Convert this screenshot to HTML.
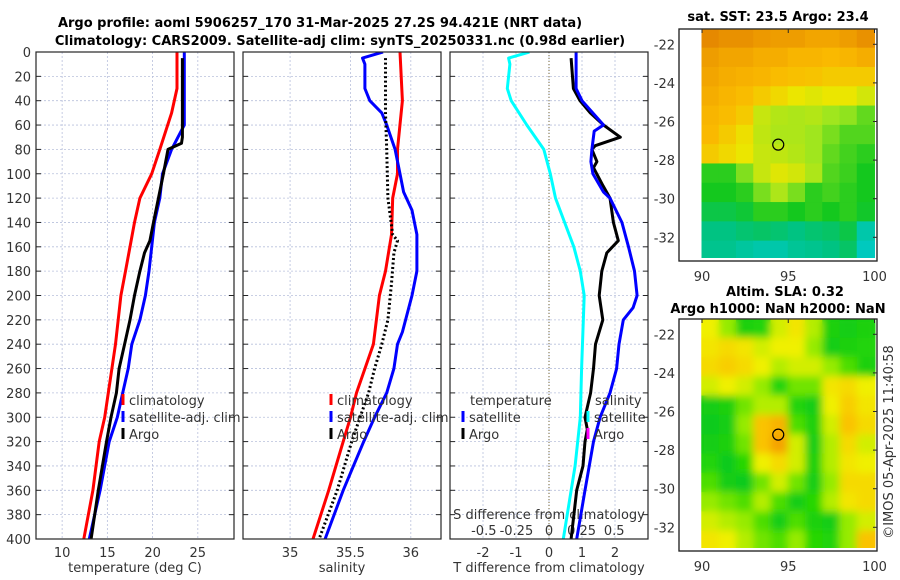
<!DOCTYPE html>
<html><head><meta charset="utf-8">
<style>
html,body{margin:0;padding:0;background:#fff;}
svg{display:block;font-family:"DejaVu Sans","Liberation Sans",sans-serif;}
text{fill:#333;font-size:13px;}
.b{font-weight:bold;fill:#000;font-size:13px;}
</style></head>
<body>
<svg id="fig" width="900" height="580" viewBox="0 0 900 580" xmlns="http://www.w3.org/2000/svg">
<defs>
<clipPath id="c1"><rect x="36" y="52" width="198" height="487"/></clipPath>
<clipPath id="c2"><rect x="243" y="52" width="198" height="487"/></clipPath>
<clipPath id="c3"><rect x="450" y="52" width="198" height="487"/></clipPath>
<clipPath id="cm1"><rect x="701" y="29" width="175" height="229"/></clipPath>
<clipPath id="cm2"><rect x="701" y="319" width="175" height="229"/></clipPath>
<filter id="blur" x="-5%" y="-5%" width="110%" height="110%"><feGaussianBlur stdDeviation="4"/></filter>
</defs>
<text class="b" x="320" y="27" text-anchor="middle">Argo profile: aoml 5906257_170 31-Mar-2025 27.2S 94.421E (NRT data)</text>
<text class="b" x="340" y="45" text-anchor="middle">Climatology: CARS2009. Satellite-adj clim: synTS_20250331.nc (0.98d earlier)</text>
<text class="b" x="778" y="21" text-anchor="middle">sat. SST: 23.5 Argo: 23.4</text>
<text class="b" x="785" y="296" text-anchor="middle">Altim. SLA: 0.32</text>
<text class="b" x="778" y="313" text-anchor="middle">Argo h1000: NaN h2000: NaN</text>
<text x="0" y="0" transform="translate(893,442) rotate(-90)" text-anchor="middle">©IMOS 05-Apr-2025 11:40:58</text>
<g id="layer"></g>
</svg>
<script>
// ---------- profile data ----------
const yTicks=[0,20,40,60,80,100,120,140,160,180,200,220,240,260,280,300,320,340,360,380,400];
const tempTicks=[10,15,20,25];
const salTicks=[35,35.5,36];
const salTickLabels=["35","35.5","36"];
const dTTicks=[-2,-1,0,1,2];
const dSTicks=[-0.5,-0.25,0,0.25,0.5];
const dSTickLabels=["-0.5","-0.25","0","0.25","0.5"];

const tClimDepth=[0,30,50,80,100,120,140,160,180,200,240,280,300,320,360,400];
const tClimVal=[22.7,22.7,22.1,20.8,19.9,18.6,18.0,17.5,17.0,16.5,15.9,15.1,14.7,14.1,13.4,12.4];
const tSatDepth=[0,60,80,100,120,140,160,180,200,220,240,260,280,300,320,360,400];
const tSatVal=[23.5,23.5,22.1,21.1,20.8,20.2,19.9,19.6,19.2,18.6,17.7,17.3,16.7,16.1,15.2,14.2,13.0];
const tArgoDepth=[5,70,75,80,100,140,155,165,180,200,220,240,260,280,300,320,360,400];
const tArgoVal=[23.3,23.3,23.2,21.7,21.2,20.1,19.7,19.1,18.6,18.0,17.5,16.9,16.3,16.0,15.4,14.9,14.0,13.2];

const sClimDepth=[0,40,80,100,120,150,180,200,240,280,300,320,360,400];
const sClimVal=[35.91,35.93,35.89,35.89,35.85,35.84,35.79,35.74,35.69,35.55,35.50,35.44,35.32,35.19];
const sSatDepth=[0,5,10,30,40,50,60,80,100,115,130,150,180,200,230,240,260,280,300,320,360,400];
const sSatVal=[35.77,35.60,35.62,35.62,35.66,35.76,35.80,35.87,35.91,35.94,36.01,36.05,36.05,36.01,35.93,35.89,35.86,35.80,35.70,35.61,35.44,35.29];
const sArgoDepth=[5,50,80,120,150,155,165,190,220,240,260,280,300,320,360,400];
const sArgoVal=[35.79,35.79,35.80,35.81,35.85,35.89,35.86,35.84,35.81,35.76,35.70,35.65,35.58,35.51,35.39,35.24];

const dSSatDepth=[0,5,10,30,40,60,80,100,120,140,160,180,200,230,260,300,340,400];
const dSSatVal=[-0.15,-0.31,-0.30,-0.32,-0.29,-0.17,-0.04,0.01,0.05,0.12,0.19,0.24,0.27,0.26,0.25,0.24,0.20,0.11];
const dTArgoDepth=[5,30,40,50,60,70,77,80,90,95,110,120,140,155,165,180,200,220,240,260,280,300,310,320,340,360,400];
const dTArgoVal=[0.67,0.74,0.94,1.25,1.65,2.16,1.40,1.30,1.45,1.35,1.64,1.85,1.95,2.10,1.75,1.60,1.52,1.63,1.41,1.35,1.26,1.09,1.16,1.09,1.03,0.84,0.67];
const dTSatDepth=[0,30,40,60,65,80,90,100,115,120,140,160,180,200,210,220,240,260,280,300,320,360,400];
const dTSatVal=[0.82,0.82,1.0,1.65,1.37,1.30,1.27,1.33,1.65,1.85,2.21,2.41,2.59,2.67,2.55,2.25,2.12,2.05,1.85,1.55,1.35,1.09,0.84];

// ---------- map data (rows north->south, cols west->east) ----------
const mapLons=[90,91,92,93,94,95,96,97,98,99];
const mapLatTops=[-21.2,-22.2,-23.2,-24.2,-25.2,-26.2,-27.2,-28.2,-29.2,-30.2,-31.2,-32.2];
const lonTicks=[90,95,100];
const latTicks=[-22,-24,-26,-28,-30,-32];
const sstGrid=[
[0.97,0.95,0.95,0.93,0.92,0.92,0.9,0.9,0.92,0.95],
[0.92,0.9,0.9,0.88,0.88,0.86,0.86,0.85,0.86,0.88],
[0.9,0.88,0.87,0.86,0.84,0.83,0.82,0.8,0.8,0.8],
[0.88,0.86,0.84,0.8,0.76,0.72,0.7,0.72,0.72,0.68],
[0.86,0.84,0.8,0.66,0.63,0.62,0.63,0.6,0.58,0.52],
[0.85,0.8,0.74,0.65,0.62,0.62,0.6,0.55,0.5,0.5],
[0.8,0.76,0.72,0.66,0.65,0.63,0.6,0.52,0.48,0.45],
[0.45,0.45,0.56,0.66,0.7,0.68,0.62,0.5,0.47,0.42],
[0.42,0.42,0.45,0.55,0.62,0.55,0.45,0.48,0.45,0.42],
[0.35,0.35,0.38,0.45,0.45,0.42,0.45,0.42,0.45,0.4],
[0.25,0.25,0.28,0.3,0.28,0.25,0.28,0.3,0.35,0.15],
[0.22,0.22,0.18,0.15,0.15,0.2,0.22,0.25,0.3,0.1]];
const slaGrid=[
[0.6,0.45,0.2,0.25,0.55,0.65,0.5,0.2,0.15,0.2],
[0.65,0.7,0.65,0.55,0.6,0.6,0.45,0.15,0.2,0.25],
[0.7,0.75,0.7,0.6,0.5,0.55,0.55,0.45,0.35,0.2],
[0.55,0.6,0.55,0.45,0.25,0.4,0.4,0.65,0.7,0.6],
[0.15,0.2,0.4,0.5,0.5,0.25,0.15,0.6,0.75,0.65],
[0.1,0.15,0.45,0.8,0.85,0.35,0.2,0.55,0.8,0.7],
[0.15,0.2,0.4,0.8,0.9,0.55,0.15,0.5,0.7,0.55],
[0.25,0.1,0.3,0.6,0.7,0.55,0.2,0.5,0.65,0.6],
[0.35,0.15,0.1,0.4,0.55,0.4,0.15,0.45,0.7,0.7],
[0.45,0.4,0.35,0.5,0.35,0.15,0.3,0.5,0.65,0.7],
[0.55,0.5,0.45,0.35,0.15,0.35,0.2,0.15,0.45,0.55],
[0.65,0.6,0.5,0.4,0.35,0.45,0.3,0.25,0.45,0.8]];
const argoLon=94.42, argoLat=-27.2;

// ---------- helpers ----------
const NS="http://www.w3.org/2000/svg";
const layer=document.getElementById('layer');
function mk(tag,attrs,parent){const e=document.createElementNS(NS,tag);for(const k in attrs)e.setAttribute(k,attrs[k]);(parent||layer).appendChild(e);return e;}
const Y0=52,Y1=539;
function yP(d){return Y0+(d/400)*(Y1-Y0);}
const panels=[{x0:36,x1:234,lo:7.11,hi:29.0,clip:'c1'},{x0:243,x1:441,lo:34.61,hi:36.25,clip:'c2'},{x0:450,x1:648,lo:-3.0,hi:3.0,clip:'c3'}];
function xs(p,v){return p.x0+(v-p.lo)/(p.hi-p.lo)*(p.x1-p.x0);}
function xS3(v){return 549+v*130.4;}

function grid(p,ticks,pi){
  ticks.forEach(t=>{const x=xs(p,t);
    const l=mk('line',{x1:x,x2:x,y1:Y0,y2:Y1,stroke:'#b8c0dc','stroke-width':0.8,'stroke-dasharray':'2,2'});
    
    });
  yTicks.forEach(d=>{const y=yP(d);
    const l=mk('line',{x1:p.x0,x2:p.x1,y1:y,y2:y,stroke:'#b8c0dc','stroke-width':0.8,'stroke-dasharray':'2,2'});
    
    
    mk('line',{x1:p.x0,x2:p.x0+5,y1:y,y2:y,stroke:'#262626','stroke-width':1});
    mk('line',{x1:p.x1-5,x2:p.x1,y1:y,y2:y,stroke:'#262626','stroke-width':1});});
}
function frame(p,pi){
  const r=mk('rect',{x:p.x0,y:Y0,width:p.x1-p.x0,height:Y1-Y0,fill:'none',stroke:'#262626','stroke-width':1.2});
  
  
}
function line(p,ds,vs,color,name,dash,xf){
  const pts=ds.map((d,i)=>(xf?xf(vs[i]):xs(p,vs[i])).toFixed(1)+','+yP(d).toFixed(1)).join(' ');
  const a={points:pts,fill:'none',stroke:color,'stroke-width':3,'stroke-linejoin':'round','clip-path':'url(#'+p.clip+')'};
  if(dash)a['stroke-dasharray']=dash;
  const e=mk('polyline',a);
  
  
}
function txt(x,y,s,anchor,name){const t=mk('text',{x:x,y:y,'text-anchor':anchor||'start'});t.textContent=s;
  
  
  return t;}

grid(panels[0],tempTicks,1);grid(panels[1],salTicks,2);grid(panels[2],dTTicks,3);
{const z=mk('line',{x1:xs(panels[2],0),x2:xs(panels[2],0),y1:Y0,y2:Y1,stroke:'#7a6a3a','stroke-width':1,'stroke-dasharray':'1,2'});

}

yTicks.forEach(d=>txt(31,yP(d)+5,String(d),'end','y-tick-label'));
tempTicks.forEach(t=>txt(xs(panels[0],t),557,String(t),'middle','temp-tick-label'));
salTicks.forEach((t,i)=>txt(xs(panels[1],t),557,salTickLabels[i],'middle','salinity-tick-label'));
dTTicks.forEach(t=>txt(xs(panels[2],t),557,String(t),'middle','tdiff-tick-label'));
dSTicks.forEach((t,i)=>txt(xS3(t),535,dSTickLabels[i],'middle','sdiff-tick-label'));
txt(135,572,'temperature (deg C)','middle','temperature-axis-title');
txt(342,572,'salinity','middle','salinity-axis-title');
txt(549,572,'T difference from climatology','middle','tdiff-axis-title');
txt(549,519,'S difference from climatology','middle','sdiff-axis-title');

line(panels[0],tClimDepth,tClimVal,'#ff0000','temp-climatology-line');
line(panels[0],tSatDepth,tSatVal,'#0000ff','temp-satellite-line');
line(panels[0],tArgoDepth,tArgoVal,'#000000','temp-argo-line');
line(panels[1],sClimDepth,sClimVal,'#ff0000','salinity-climatology-line');
line(panels[1],sSatDepth,sSatVal,'#0000ff','salinity-satellite-line');
line(panels[1],sArgoDepth,sArgoVal,'#000000','salinity-argo-line','2,2.5');
line(panels[2],dSSatDepth,dSSatVal,'#00ffff','sdiff-satellite-line',null,xS3);
line(panels[2],dTArgoDepth,dTArgoVal,'#000000','tdiff-argo-line');
line(panels[2],dTSatDepth,dTSatVal,'#0000ff','tdiff-satellite-line');
frame(panels[0],1);frame(panels[1],2);frame(panels[2],3);

function leg(x,y,color,label,name){
  const m=mk('line',{x1:x,x2:x,y1:y-11,y2:y,stroke:color,'stroke-width':3});
  
  
  txt(x+6,y,label,'start',name);
}
[[123,'#ff0000','climatology'],[123,'#0000ff','satellite-adj. clim'],[123,'#000000','Argo']].forEach((l,i)=>leg(l[0],405+i*17,l[1],l[2],'legend-entry-temp'));
[[331,'#ff0000','climatology'],[331,'#0000ff','satellite-adj. clim'],[331,'#000000','Argo']].forEach((l,i)=>leg(l[0],405+i*17,l[1],l[2],'legend-entry-salinity'));
txt(470,405,'temperature','start','legend-header-temperature');
txt(595,405,'salinity','start','legend-header-salinity');
leg(463,422,'#0000ff','satellite','legend-entry-tdiff-satellite');
leg(463,439,'#000000','Argo','legend-entry-tdiff-argo');
leg(588,422,'#00ffff','satellite','legend-entry-sdiff-satellite');
leg(588,439,'#ff00ff','Argo','legend-entry-sdiff-argo');

// ---------- maps ----------
function lerp(a,b,t){return a.map((v,i)=>Math.round(v+(b[i]-v)*t));}
function cmap(stops,v){for(let i=1;i<stops.length;i++){if(v<=stops[i][0]){const t=(v-stops[i-1][0])/(stops[i][0]-stops[i-1][0]);return 'rgb('+lerp(stops[i-1][1],stops[i][1],Math.max(0,t)).join(',')+')';}}return 'rgb('+stops[stops.length-1][1].join(',')+')';}
const sstStops=[[0,[0,205,230]],[0.25,[0,195,130]],[0.42,[20,200,30]],[0.6,[160,230,30]],[0.72,[235,230,0]],[0.85,[250,185,0]],[1,[225,125,0]]];
const slaStops=[[0,[0,195,40]],[0.3,[40,215,0]],[0.45,[150,235,0]],[0.6,[240,240,0]],[0.8,[250,195,0]],[1,[240,130,0]]];

function drawMap(m){
  const lonX=l=>702+(l-90)*17.25;
  const latY=l=>m.y22+(-22-l)*m.pxLat;
  const bx=mk('rect',{x:679,y:m.top,width:198,height:m.bot-m.top,fill:'#fff',stroke:'#262626','stroke-width':1.2});
  
  
  const g=mk('g',{'clip-path':'url(#'+m.clip+')'});
  const layers=m.blur?[mk('g',{},g),mk('g',{filter:'url(#blur)'},g)]:[mk('g',{},g)];
  layers.forEach(g2=>{
  m.grid.forEach((row,r)=>row.forEach((v,c)=>{
    const x0=lonX(mapLons[c]),x1=lonX(mapLons[c]+1);
    const y0=latY(mapLatTops[r]),y1=latY(mapLatTops[r]-1);
    const e=mk('rect',{x:x0-0.5,y:y0-0.5,width:x1-x0+1,height:y1-y0+1,fill:cmap(m.stops,v)},g2);
    
    
  }));});
  mk('rect',{x:679,y:m.top,width:198,height:m.bot-m.top,fill:'none',stroke:'#262626','stroke-width':1.2});
  const ci=mk('circle',{cx:lonX(argoLon),cy:latY(argoLat),r:5.5,fill:'none',stroke:'#000','stroke-width':1.2});
  
  
  latTicks.forEach(l=>{const y=latY(l);txt(675,y+5,String(l),'end',m.name+'-lat-label');
    mk('line',{x1:873,x2:877,y1:y,y2:y,stroke:'#262626'});});
  lonTicks.forEach(l=>{const x=lonX(l);txt(x,m.bot+20,String(l),'middle',m.name+'-lon-label');
    mk('line',{x1:x,x2:x,y1:m.top,y2:m.top+4,stroke:'#262626'});});
}
drawMap({name:'sst-map',grid:sstGrid,stops:sstStops,top:29,bot:261,y22:44.3,pxLat:19.3,clip:'cm1',blur:false});
drawMap({name:'sla-map',grid:slaGrid,stops:slaStops,top:319,bot:551,y22:334.3,pxLat:19.3,clip:'cm2',blur:true});
</script>
</body></html>
